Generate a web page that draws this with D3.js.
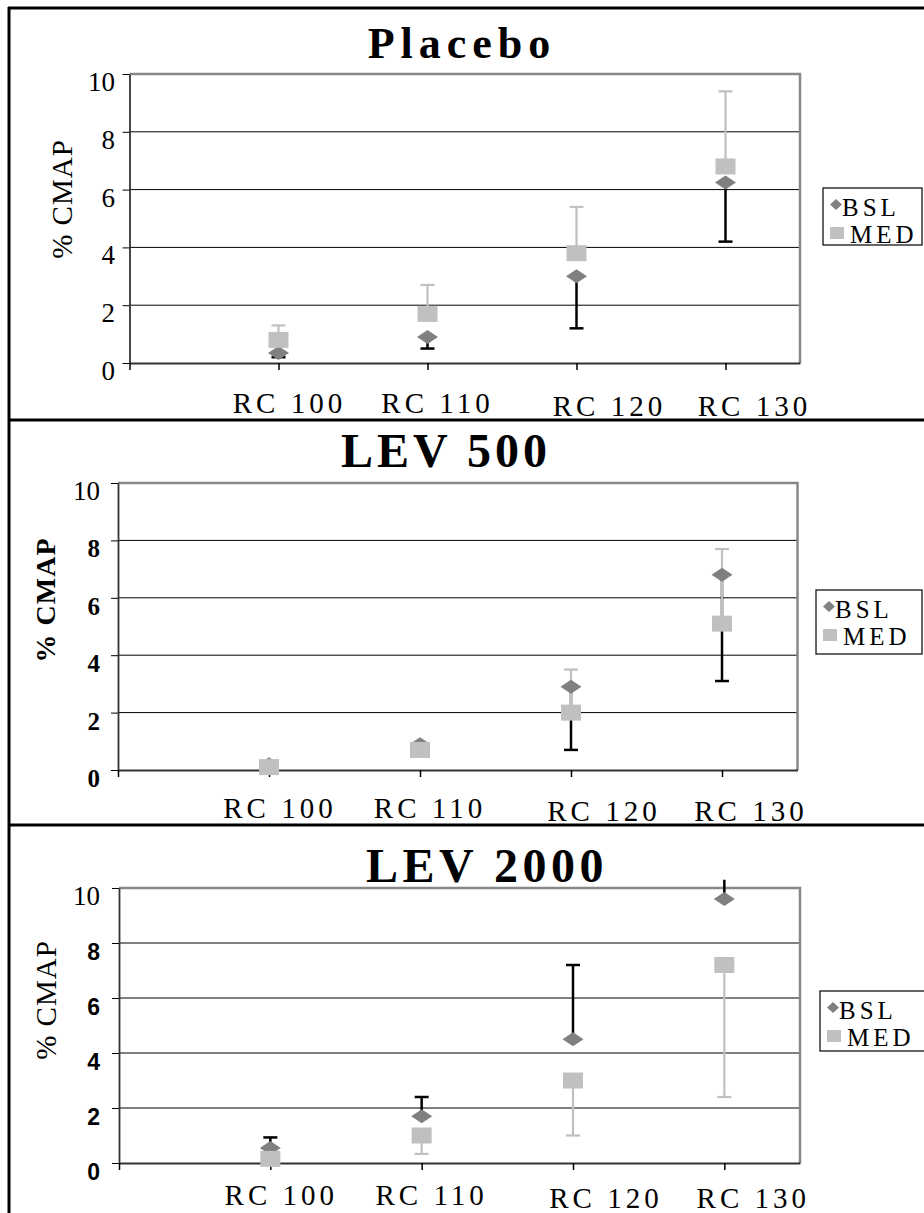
<html>
<head>
<script src="https://d3js.org/d3.v7.min.js"></script>
<style>
  body { margin: 0; background: #fff; }
</style>
</head>
<body>
<svg id="chart" width="924" height="1213"></svg>
<script>
// values
const categories = ["RC 100", "RC 110", "RC 120", "RC 130"];
const yTicks = [0, 2, 4, 6, 8, 10];
const seriesNames = ["BSL", "MED"];
const panelTitles = ["Placebo", "LEV 500", "LEV 2000"];

// Placebo: BSL error goes down, MED error goes up
const placeboBSL = [0.35, 0.9, 3.0, 6.25];
const placeboBSLerrEnd = [0.2, 0.5, 1.2, 4.2];
const placeboMED = [0.8, 1.7, 3.8, 6.8];
const placeboMEDerrEnd = [1.3, 2.7, 5.4, 9.4];

// LEV 500
const lev500BSL = [0.2, 0.9, 2.9, 6.8];
const lev500BSLerrEnd = [null, null, 0.7, 3.1];
const lev500MED = [0.1, 0.7, 2.0, 5.1];
const lev500MEDerrEnd = [null, null, 3.5, 7.7];

// LEV 2000: BSL error goes up, MED error goes down
const lev2000BSL = [0.55, 1.7, 4.5, 9.6];
const lev2000BSLerrEnd = [0.93, 2.4, 7.2, 10.3];
const lev2000MED = [0.15, 1.0, 3.0, 7.2];
const lev2000MEDerrEnd = [null, 0.33, 1.0, 2.4];

const serif = "'Liberation Serif', 'Times New Roman', serif";
const sans = "'Liberation Sans', Arial, sans-serif";
const bslColor = "#808080", medColor = "#c0c0c0";

// layout of each panel
const panels = [
  { title: panelTitles[0], bsl: placeboBSL, bslErr: placeboBSLerrEnd, med: placeboMED, medErr: placeboMEDerrEnd,
    plot: { l: 129.5, r: 800, t: 74, b: 363 }, titleX: 462, titleY: 58, titleSize: 44, titleLs: 6,
    tickFont: { f: serif, w: "normal", s: 27 }, labelFont: { w: "normal", s: 29 }, yLabel: [62, 199],
    tickRight: 115, xLabelY: 413, legend: { x: 823, y: 188, w: 99, h: 57 } },
  { title: panelTitles[1], bsl: lev500BSL, bslErr: lev500BSLerrEnd, med: lev500MED, medErr: lev500MEDerrEnd,
    plot: { l: 118, r: 797.5, t: 483, b: 770 }, titleX: 446, titleY: 467, titleSize: 48, titleLs: 4,
    tickFont: { f: serif, w: "bold", s: 25 }, labelFont: { w: "bold", s: 28 }, yLabel: [45, 600],
    tickRight: 100, xLabelY: 818, legend: { x: 816, y: 590, w: 106, h: 64 } },
  { title: panelTitles[2], bsl: lev2000BSL, bslErr: lev2000BSLerrEnd, med: lev2000MED, medErr: lev2000MEDerrEnd,
    plot: { l: 119, r: 800, t: 888, b: 1163 }, titleX: 487, titleY: 882, titleSize: 48, titleLs: 4.5,
    tickFont: { f: sans, w: "bold", s: 23 }, labelFont: { w: "normal", s: 29 }, yLabel: [46, 1000],
    tickRight: 100, xLabelY: 1205, legend: { x: 820, y: 991, w: 106, h: 60 } }
];
const labelShift = [9, 8, 31, 27];
const labelDrop = [0, 0, 3, 3];

const svg = d3.select("svg#chart");

// outer frame and panel separators
svg.append("line").attr("x1", 9).attr("x2", 9).attr("y1", 7).attr("y2", 1213)
  .attr("stroke", "#000").attr("stroke-width", 3);
[8, 420, 825].forEach(y => {
  svg.append("line").attr("x1", 8).attr("x2", 924).attr("y1", y).attr("y2", y)
    .attr("stroke", "#000").attr("stroke-width", 3);
});

panels.forEach(p => {
  const g = svg.append("g");
  const x = d3.scaleLinear().domain([0, 4.5]).range([p.plot.l, p.plot.r]);
  const y = d3.scaleLinear().domain([0, 10]).range([p.plot.b, p.plot.t]);

  // title
  g.append("text")
    .attr("x", p.titleX).attr("y", p.titleY)
    .attr("text-anchor", "middle")
    .style("font-family", serif).style("font-weight", "bold")
    .style("font-size", p.titleSize + "px").style("letter-spacing", p.titleLs + "px")
    .text(p.title);

  // gridlines
  g.selectAll("line.grid").data(yTicks.filter(d => d > 0 && d < 10))
    .join("line").attr("class", "grid")
    .attr("x1", p.plot.l).attr("x2", p.plot.r)
    .attr("y1", d => y(d)).attr("y2", d => y(d))
    .attr("stroke", "#000").attr("stroke-width", 1);

  // top and right frame in gray
  g.append("path")
    .attr("d", `M${p.plot.l},${y(10)}H${p.plot.r}V${y(0)}`)
    .attr("fill", "none").attr("stroke", "#888").attr("stroke-width", 2.5);

  // y axis
  const yAxis = g.append("g")
    .attr("transform", `translate(${p.plot.l},0)`)
    .call(d3.axisLeft(y).tickValues(yTicks).tickSize(7).tickSizeOuter(0).tickFormat(""));
  yAxis.select(".domain").attr("stroke", "#333").attr("stroke-width", 1.8);
  yAxis.selectAll(".tick line").attr("stroke", "#000");

  g.selectAll("text.ytick").data(yTicks)
    .join("text").attr("class", "ytick")
    .attr("x", p.tickRight)
    .attr("y", d => y(d) + 17)
    .attr("text-anchor", "end")
    .style("font-family", d => d === 10 ? serif : p.tickFont.f)
    .style("font-weight", d => d === 10 ? "normal" : p.tickFont.w)
    .style("font-size", d => (d === 10 ? 27 : p.tickFont.s) + "px")
    .text(d => d);

  // x axis
  const xAxis = g.append("g")
    .attr("transform", `translate(0,${y(0)})`)
    .call(d3.axisBottom(x).tickValues([0, 1, 2, 3, 4]).tickSize(7).tickSizeOuter(0).tickFormat(""));
  xAxis.select(".domain").attr("stroke", "#333").attr("stroke-width", 2);
  xAxis.selectAll(".tick line").attr("stroke", "#000").attr("stroke-width", 1.5);

  g.selectAll("text.xlab").data(categories)
    .join("text").attr("class", "xlab")
    .attr("x", (d, i) => x(i + 1) + labelShift[i] + 2)
    .attr("y", (d, i) => p.xLabelY + labelDrop[i])
    .attr("text-anchor", "middle")
    .style("font-family", serif).style("font-size", "29px").style("letter-spacing", "4px")
    .text(d => d);

  // y axis label
  g.append("text")
    .attr("transform", `translate(${p.yLabel[0] + 10},${p.yLabel[1]}) rotate(-90)`)
    .attr("text-anchor", "middle")
    .style("font-family", serif).style("font-weight", p.labelFont.w)
    .style("font-size", p.labelFont.s + "px").style("letter-spacing", "1px")
    .text("% CMAP");

  // error bars: BSL first, then MED
  const errBars = (vals, ends, color, width, cls) => {
    const d = vals.map((v, i) => ({ i, v, e: ends[i] })).filter(o => o.e !== null);
    g.selectAll("line." + cls).data(d).join("line").attr("class", cls)
      .attr("x1", o => x(o.i + 1)).attr("x2", o => x(o.i + 1))
      .attr("y1", o => y(o.v)).attr("y2", o => y(o.e))
      .attr("stroke", color).attr("stroke-width", width);
    g.selectAll("line." + cls + "cap").data(d.filter(o => o.e <= 10)).join("line").attr("class", cls + "cap")
      .attr("x1", o => x(o.i + 1) - 7).attr("x2", o => x(o.i + 1) + 7)
      .attr("y1", o => y(o.e)).attr("y2", o => y(o.e))
      .attr("stroke", color).attr("stroke-width", width);
  };
  errBars(p.bsl, p.bslErr, "#000", 2.5, "ebsl");
  errBars(p.med, p.medErr, medColor, 2.2, "emed");

  // markers
  g.selectAll("path.bsl").data(p.bsl).join("path").attr("class", "bsl")
    .attr("transform", (d, i) => `translate(${x(i + 1)},${y(d)})`)
    .attr("d", "M-10.5,0L0,-7L10.5,0L0,7Z")
    .attr("fill", bslColor);
  g.selectAll("rect.med").data(p.med).join("rect").attr("class", "med")
    .attr("x", (d, i) => x(i + 1) - 10).attr("y", d => y(d) - 8)
    .attr("width", 20).attr("height", 16)
    .attr("fill", medColor);

  // legend
  const L = p.legend;
  const lg = g.append("g").attr("transform", `translate(${L.x},${L.y})`);
  lg.append("rect").attr("width", L.w).attr("height", L.h)
    .attr("fill", "#fff").attr("stroke", "#000").attr("stroke-width", 1.2);
  lg.append("path").attr("d", "M7,16.5L13,11L19,16.5L13,22Z").attr("fill", bslColor);
  lg.append("rect").attr("x", 7).attr("y", 39).attr("width", 14).attr("height", 12).attr("fill", medColor);
  lg.selectAll("text").data(seriesNames).join("text")
    .attr("x", (d, i) => i === 0 ? 19 : 27)
    .attr("y", (d, i) => i === 0 ? 28 : 55)
    .style("font-family", serif).style("font-size", "25px").style("letter-spacing", "4px")
    .text(d => d);
});
</script>
</body>
</html>
